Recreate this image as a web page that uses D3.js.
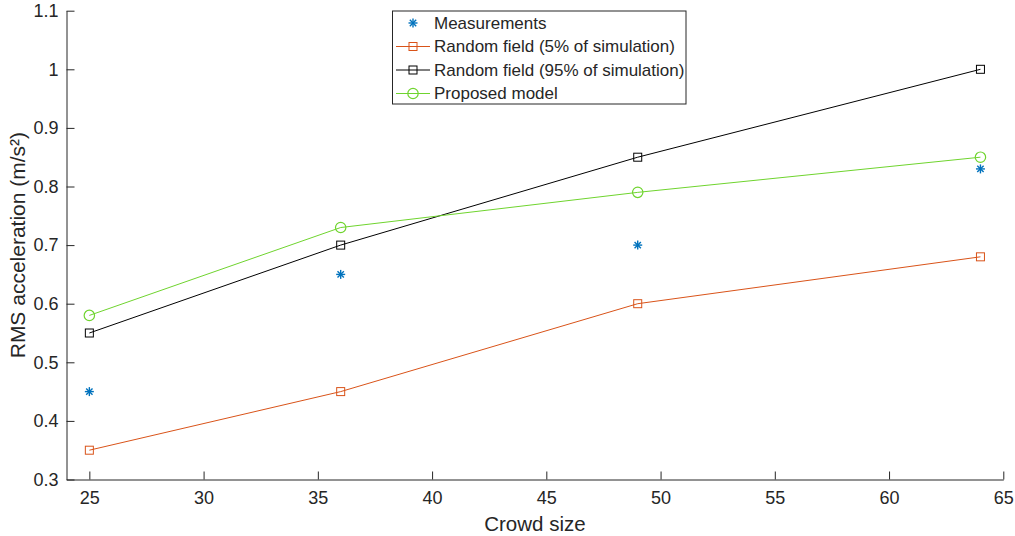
<!DOCTYPE html>
<html><head><meta charset="utf-8">
<script src="https://cdn.jsdelivr.net/npm/d3@7"></script>
<style>body{margin:0;background:#fff;}svg{display:block;font-family:"Liberation Sans",Arial,sans-serif;}</style>
</head><body><svg id="c" width="1015" height="536"></svg>
<script>
const crowd = [25, 36, 49, 64];
const measurements = [0.45, 0.65, 0.70, 0.83];
const rf5 = [0.35, 0.45, 0.60, 0.68];
const rf95 = [0.55, 0.70, 0.85, 1.00];
const proposed = [0.58, 0.73, 0.79, 0.85];
const xTicks = [25, 30, 35, 40, 45, 50, 55, 60, 65];
const yTicks = [0.3, 0.4, 0.5, 0.6, 0.7, 0.8, 0.9, 1, 1.1];
const legendLabels = ["Measurements", "Random field (5% of simulation)", "Random field (95% of simulation)", "Proposed model"];

const svg = d3.select("#c");
const x = d3.scaleLinear().domain([24, 65]).range([66.5, 1003.3]);
const y = d3.scaleLinear().domain([0.3, 1.1]).range([479.5, 10.7]);
const axisCol = "#262626";

// axes
const gx = svg.append("g").attr("transform", `translate(0,${y(0.3)})`)
  .call(d3.axisBottom(x).tickValues(xTicks).tickFormat(d3.format("d")).tickSizeInner(-8).tickSizeOuter(0).tickPadding(12));
const gy = svg.append("g").attr("transform", `translate(${x(24)},0)`)
  .call(d3.axisLeft(y).tickValues(yTicks).tickFormat(d => d3.format("")(+d.toFixed(1))).tickSizeInner(-8).tickSizeOuter(0).tickPadding(8));
[gx, gy].forEach(g => {
  g.select(".domain").attr("stroke", axisCol).attr("stroke-width", 1);
  g.selectAll(".tick line").attr("stroke", axisCol);
  g.selectAll(".tick text").attr("fill", axisCol).attr("font-size", 18).attr("font-family", "Liberation Sans, Arial, sans-serif");
});
gx.selectAll(".tick text").attr("dy", "0.71em");

svg.append("text").attr("x", x(44.5)).attr("y", 531).attr("text-anchor", "middle")
  .attr("fill", axisCol).attr("font-size", 20.5).text("Crowd size");
svg.append("text").attr("transform", `translate(25,${y(0.7)}) rotate(-90)`).attr("text-anchor", "middle")
  .attr("fill", axisCol).attr("font-size", 21).text("RMS acceleration (m/s²)");

const line = d3.line().x(d => x(d[0])).y(d => y(d[1]));
const series = [
  {vals: rf5, color: "#D95319", marker: "square"},
  {vals: rf95, color: "#000000", marker: "square"},
  {vals: proposed, color: "#6fd42e", marker: "circle"}
];

function drawMarker(g, type, cx, cy, color) {
  if (type === "square") {
    g.append("rect").attr("x", cx - 4).attr("y", cy - 4).attr("width", 8).attr("height", 8)
      .attr("fill", "none").attr("stroke", color).attr("stroke-width", 1);
  } else if (type === "circle") {
    g.append("circle").attr("cx", cx).attr("cy", cy).attr("r", 5.2)
      .attr("fill", "none").attr("stroke", color).attr("stroke-width", 1.2);
  } else if (type === "star") {
    const r = 4.5;
    for (let k = 0; k < 4; k++) {
      const a = k * Math.PI / 4;
      g.append("line").attr("x1", cx - r * Math.cos(a)).attr("y1", cy - r * Math.sin(a))
        .attr("x2", cx + r * Math.cos(a)).attr("y2", cy + r * Math.sin(a))
        .attr("stroke", color).attr("stroke-width", 1.4);
    }
  }
}

series.forEach(s => {
  const pts = crowd.map((c, i) => [c, s.vals[i]]);
  svg.append("path").attr("d", line(pts)).attr("fill", "none").attr("stroke", s.color).attr("stroke-width", 1);
  const g = svg.append("g");
  pts.forEach(p => drawMarker(g, s.marker, x(p[0]), y(p[1]), s.color));
});
const gm = svg.append("g");
crowd.forEach((c, i) => drawMarker(gm, "star", x(c), y(measurements[i]), "#0072BD"));

// legend
const lg = svg.append("g");
lg.append("rect").attr("x", 392.5).attr("y", 11).attr("width", 293.5).attr("height", 93)
  .attr("fill", "#fff").attr("stroke", axisCol).attr("stroke-width", 1);
const legendItems = [
  {color: "#0072BD", marker: "star", line: false},
  {color: "#D95319", marker: "square", line: true},
  {color: "#000000", marker: "square", line: true},
  {color: "#6fd42e", marker: "circle", line: true}
];
legendItems.forEach((it, i) => {
  const cy = 23 + i * 23.5;
  if (it.line) lg.append("line").attr("x1", 396).attr("x2", 430).attr("y1", cy).attr("y2", cy).attr("stroke", it.color);
  drawMarker(lg, it.marker, 413, cy, it.color);
  lg.append("text").attr("x", 434).attr("y", cy).attr("dy", "0.35em").attr("font-size", 17)
    .attr("fill", axisCol).text(legendLabels[i]);
});
</script></body></html>
